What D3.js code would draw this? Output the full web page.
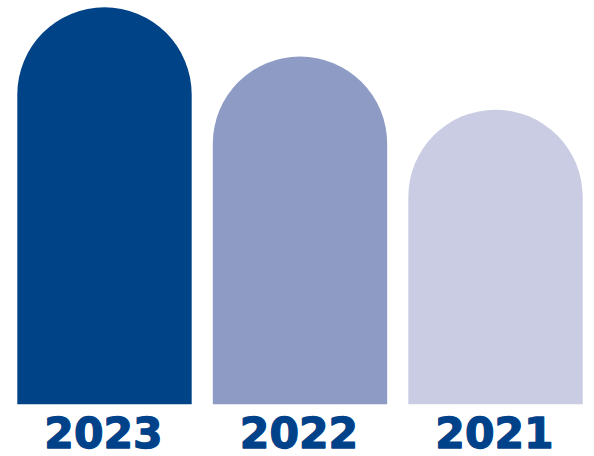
<!DOCTYPE html>
<html>
<head>
<meta charset="utf-8">
<script src="https://cdn.jsdelivr.net/npm/d3@7"></script>
<style>
  html, body { margin: 0; padding: 0; background: #ffffff; }
  svg { display: block; }
</style>
</head>
<body>
<svg id="chart" width="594" height="456"></svg>
<script>
// Data
const years = ["2023", "2022", "2021"];
const values = [100, 87.6, 74.2];
const colors = ["#004387", "#8e9bc5", "#c9cce3"];

const svg = d3.select("#chart");

const x = d3.scaleBand()
  .domain(years)
  .range([17.3, 582.7])
  .paddingInner(0.108)
  .paddingOuter(0);

const y = d3.scaleLinear()
  .domain([0, 100])
  .range([404.3, 7.3]);

function archPath(x0, w, top, bottom) {
  const r = w / 2;
  const p = d3.path();
  p.moveTo(x0, bottom);
  p.lineTo(x0, top + r);
  p.arc(x0 + r, top + r, r, Math.PI, 0, false);
  p.lineTo(x0 + w, bottom);
  p.closePath();
  return p.toString();
}

svg.selectAll("path.bar")
  .data(years)
  .enter()
  .append("path")
  .attr("class", "bar")
  .attr("fill", (d, i) => colors[i])
  .attr("d", (d, i) => archPath(x(d), x.bandwidth(), y(values[i]), y(0)));

svg.selectAll("text.label")
  .data(years)
  .enter()
  .append("text")
  .attr("class", "label")
  .attr("x", d => x(d) + x.bandwidth() / 2 - 1)
  .attr("y", 447.8)
  .attr("text-anchor", "middle")
  .attr("font-family", "'DejaVu Sans', sans-serif")
  .attr("font-weight", "bold")
  .attr("font-size", "42.5px")
  .attr("fill", "#00428a")
  .attr("stroke", "#00428a")
  .attr("stroke-width", 1.3)
  .attr("stroke-linejoin", "round")
  .text(d => d);
</script>
</body>
</html>
